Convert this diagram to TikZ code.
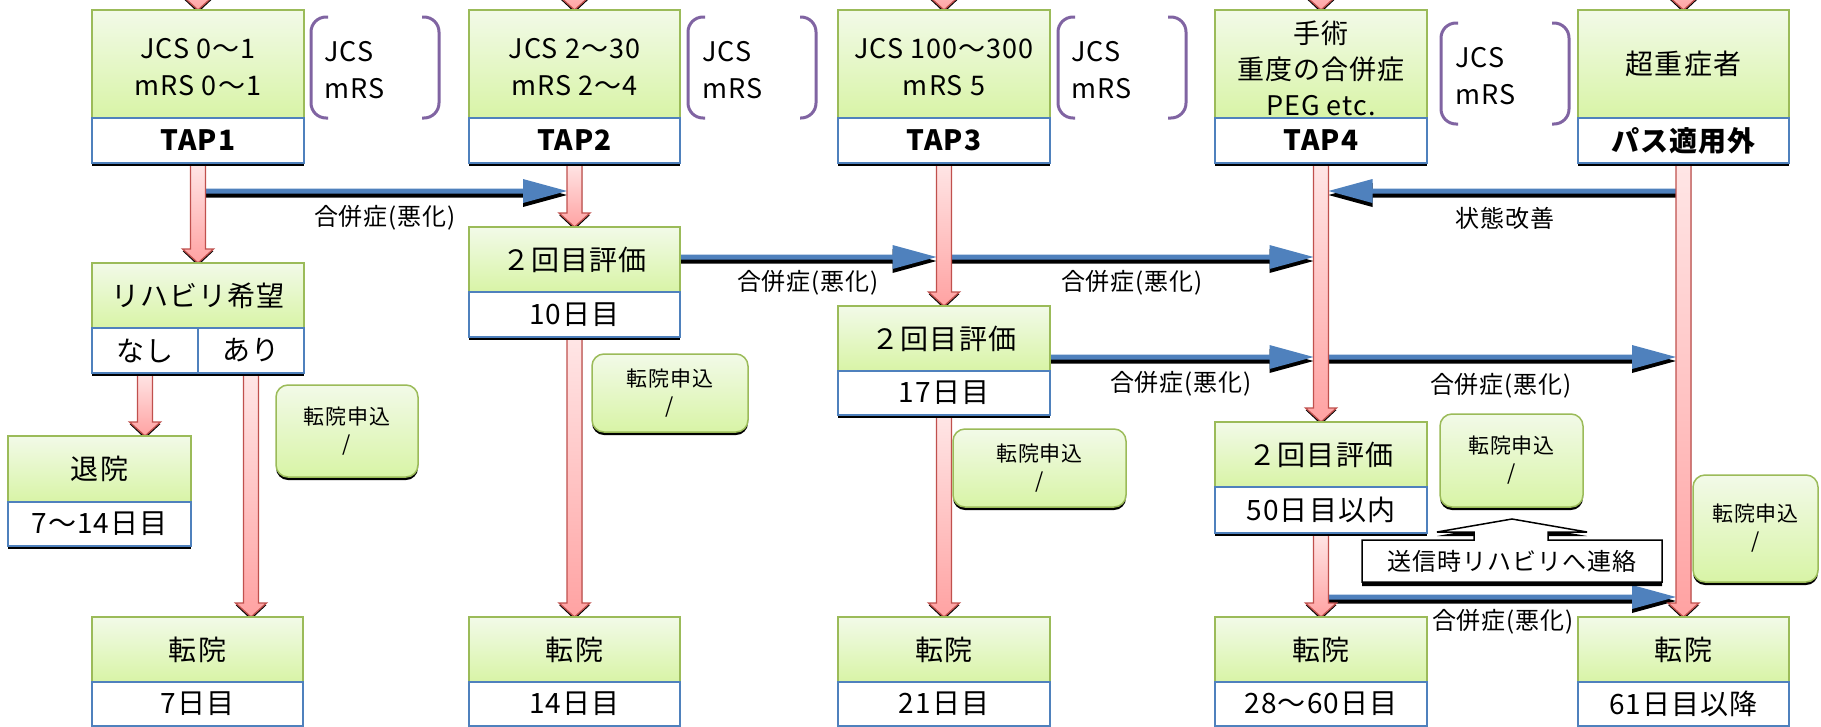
\documentclass[tikz,border=0pt]{standalone}
\usepackage{fontspec}
\setmainfont{Noto Sans CJK JP}[LetterSpace=4]
\usetikzlibrary{shadows,calc}
\pgfdeclarelayer{back}
\pgfdeclarelayer{bg}
\pgfsetlayers{back,bg,main}
\definecolor{gborder}{HTML}{9BBB59}
\definecolor{gtop}{HTML}{F2FAE8}
\definecolor{gbot}{HTML}{D8F4A6}
\definecolor{bborder}{HTML}{4F81BD}
\definecolor{bblue}{HTML}{4F81BD}
\definecolor{rborder}{HTML}{C0504D}
\definecolor{rtop}{HTML}{FFE6E6}
\definecolor{rbot}{HTML}{FFA2A2}
\definecolor{bpurple}{HTML}{8064A2}
\newcommand\redarr[2]{%
  \path[fill=black] let \p1=#1, \p2=#2 in
    (\x1-7.5pt,\y1-2pt) -- (\x1+7.5pt,\y1-2pt) -- (\x1+7.5pt,\y2+12pt) -- (\x1+15.5pt,\y2+12pt)
    -- (\x1,\y2-2.5pt) -- (\x1-15.5pt,\y2+12pt) -- (\x1-7.5pt,\y2+12pt) -- cycle;
  \path[draw=rborder, line width=1.3pt, top color=rtop, bottom color=rbot] let \p1=#1, \p2=#2 in
    (\x1-7.5pt,\y1) -- (\x1+7.5pt,\y1) -- (\x1+7.5pt,\y2+14pt) -- (\x1+15.5pt,\y2+14pt)
    -- (\x1,\y2) -- (\x1-15.5pt,\y2+14pt) -- (\x1-7.5pt,\y2+14pt) -- cycle;
}
\newcommand\bluer[2]{%
  \path[fill=black] let \p1=#1, \p2=#2 in
    (\x1,\y1-1.5pt) -- (\x2-51.5pt,\y1-1.5pt) -- (\x2-51.5pt,\y1+8pt) -- (\x2-7.5pt,\y1-4pt)
    -- (\x2-51.5pt,\y1-16pt) -- (\x2-51.5pt,\y1-6.5pt) -- (\x1,\y1-6.5pt) -- cycle;
  \path[fill=bblue] let \p1=#1, \p2=#2 in
    (\x1,\y1+2.5pt) -- (\x2-51.5pt,\y1+2.5pt) -- (\x2-51.5pt,\y1+12pt) -- (\x2-7.5pt,\y1)
    -- (\x2-51.5pt,\y1-12pt) -- (\x2-51.5pt,\y1-2.5pt) -- (\x1,\y1-2.5pt) -- cycle;
}
\newcommand\bluel[2]{%
  \path[fill=black] let \p1=#1, \p2=#2 in
    (\x1,\y1-1.5pt) -- (\x2+51.5pt,\y1-1.5pt) -- (\x2+51.5pt,\y1+8pt) -- (\x2+7.5pt,\y1-4pt)
    -- (\x2+51.5pt,\y1-16pt) -- (\x2+51.5pt,\y1-6.5pt) -- (\x1,\y1-6.5pt) -- cycle;
  \path[fill=bblue] let \p1=#1, \p2=#2 in
    (\x1,\y1+2.5pt) -- (\x2+51.5pt,\y1+2.5pt) -- (\x2+51.5pt,\y1+12pt) -- (\x2+7.5pt,\y1)
    -- (\x2+51.5pt,\y1-12pt) -- (\x2+51.5pt,\y1-2.5pt) -- (\x1,\y1-2.5pt) -- cycle;
}
\tikzset{
  blackshadow/.style={drop shadow={shadow xshift=0pt, shadow yshift=-3pt, opacity=1, fill=black}},
  gpart/.style={draw=gborder, line width=1.5pt, top color=gtop, bottom color=gbot,
    inner sep=0pt, outer sep=0pt, anchor=north west, align=center, text=black},
  wpart/.style={draw=bborder, line width=1.5pt, fill=white, inner sep=0pt, outer sep=0pt,
    anchor=north west, align=center, blackshadow},
  rbox/.style={draw=gborder, line width=1.5pt, top color=gtop, bottom color=gbot,
    rounded corners=12pt, inner sep=0pt, outer sep=0pt, anchor=north west, align=center,
    blackshadow, font=\fontsize{21}{27}\selectfont},
  ftop/.style={font=\fontsize{27}{37}\selectfont},
  fbig/.style={font=\fontsize{28}{34}\selectfont},
  fbold/.style={font=\bfseries\fontsize{28}{34}\selectfont},
  lbl/.style={font=\fontsize{24}{28}\selectfont, inner sep=0pt},
  brk/.style={draw=bpurple, line width=3pt, rounded corners=15pt},
  brtxt/.style={font=\fontsize{27}{37}\selectfont, anchor=west, inner sep=0pt, align=left},
  intxt/.style={inner sep=0pt, align=center},
}
\begin{document}
\begin{tikzpicture}[x=1pt,y=-1pt]
\useasboundingbox (0,0) rectangle (1821,726);
\clip (0,0) rectangle (1821,726);
\begin{pgfonlayer}{back}
\fill[white] (0,0) rectangle (1821,726);
\end{pgfonlayer}

% top boxes
\node[gpart, minimum width=212, minimum height=108] (tap1) at (92,10) {};
\node[intxt, ftop] (tap1t) at (198,67) {JCS 0〜1\\mRS 0〜1};
\node[wpart, fbold, minimum width=212, minimum height=45] (tap1w) at (92,118) {TAP1};
\node[gpart, minimum width=211, minimum height=108] (tap2) at (469,10) {};
\node[intxt, ftop] (tap2t) at (574.5,67) {JCS 2〜30\\mRS 2〜4};
\node[wpart, fbold, minimum width=211, minimum height=45] (tap2w) at (469,118) {TAP2};
\node[gpart, minimum width=212, minimum height=108] (tap3) at (838,10) {};
\node[intxt, ftop] (tap3t) at (944,67) {JCS 100〜300\\mRS 5};
\node[wpart, fbold, minimum width=212, minimum height=45] (tap3w) at (838,118) {TAP3};
\node[gpart, minimum width=212, minimum height=108] (tap4) at (1215,10) {};
\node[intxt, font=\fontsize{27}{36}\selectfont] (tap4t) at (1321,68) {手術\\重度の合併症\\PEG etc.};
\node[wpart, fbold, minimum width=212, minimum height=45] (tap4w) at (1215,118) {TAP4};
\node[gpart, fbig, minimum width=211, minimum height=108] (sup) at (1578,10) {超重症者};
\node[wpart, fbold, minimum width=211, minimum height=45] (supw) at (1578,118) {パス適用外};

% brackets
\draw[brk] (328,17) -- (311,17) -- (311,118) -- (328,118);
\draw[brk] (422,17) -- (439,17) -- (439,118) -- (422,118);
\node[brtxt] (br1) at (324,70) {JCS\\mRS};
\draw[brk] (705,17) -- (688,17) -- (688,118) -- (705,118);
\draw[brk] (800,17) -- (816,17) -- (816,118) -- (800,118);
\node[brtxt] (br2) at (702,70) {JCS\\mRS};
\draw[brk] (1075,17) -- (1058,17) -- (1058,118) -- (1075,118);
\draw[brk] (1168,17) -- (1186,17) -- (1186,118) -- (1168,118);
\node[brtxt] (br3) at (1071,70) {JCS\\mRS};
\draw[brk] (1458,23) -- (1441,23) -- (1441,124) -- (1458,124);
\draw[brk] (1552,23) -- (1569,23) -- (1569,124) -- (1552,124);
\node[brtxt] (br4) at (1455,76) {JCS\\mRS};

% middle boxes
\node[gpart, fbig, minimum width=212, minimum height=65] (rh) at (92,263) {リハビリ希望};
\node[wpart, fbig, minimum width=106, minimum height=45] (nashi) at (92,328) {なし};
\node[wpart, fbig, minimum width=106, minimum height=45] (ari) at (198,328) {あり};
\node[gpart, fbig, minimum width=183, minimum height=66] (taiin) at (8,436) {退院};
\node[wpart, fbig, minimum width=183, minimum height=44] (taiinw) at (8,502) {7〜14日目};
\node[gpart, fbig, minimum width=211, minimum height=65] (ev2) at (469,227) {２回目評価};
\node[wpart, fbig, minimum width=211, minimum height=45] (ev2w) at (469,292) {10日目};
\node[gpart, fbig, minimum width=212, minimum height=65] (ev3) at (838,306) {２回目評価};
\node[wpart, fbig, minimum width=212, minimum height=44] (ev3w) at (838,371) {17日目};
\node[gpart, fbig, minimum width=212, minimum height=65] (ev4) at (1215,422) {２回目評価};
\node[wpart, fbig, minimum width=212, minimum height=46] (ev4w) at (1215,487) {50日目以内};

% bottom boxes
\node[gpart, fbig, minimum width=211, minimum height=65] (b1) at (92,617) {転院};
\node[wpart, fbig, minimum width=211, minimum height=44] (b1w) at (92,682) {7日目};
\node[gpart, fbig, minimum width=211, minimum height=65] (b2) at (469,617) {転院};
\node[wpart, fbig, minimum width=211, minimum height=44] (b2w) at (469,682) {14日目};
\node[gpart, fbig, minimum width=212, minimum height=65] (b3) at (838,617) {転院};
\node[wpart, fbig, minimum width=212, minimum height=44] (b3w) at (838,682) {21日目};
\node[gpart, fbig, minimum width=212, minimum height=65] (b4) at (1215,617) {転院};
\node[wpart, fbig, minimum width=212, minimum height=44] (b4w) at (1215,682) {28〜60日目};
\node[gpart, fbig, minimum width=211, minimum height=65] (b5) at (1578,617) {転院};
\node[wpart, fbig, minimum width=211, minimum height=44] (b5w) at (1578,682) {61日目以降};

% transfer application boxes
\node[rbox, minimum width=142, minimum height=92] (ta) at (276,385) {転院申込\\/};
\node[rbox, minimum width=156, minimum height=78] (tb) at (592,354) {転院申込\\/};
\node[rbox, minimum width=173, minimum height=78] (tc) at (953,429) {転院申込\\/};
\node[rbox, minimum width=143, minimum height=93] (td) at (1440,414) {転院申込\\/};
\node[rbox, minimum width=125, minimum height=107] (te) at (1693,475) {転院申込\\/};

% callout
\fill[black] (1362,544) -- (1474,544) -- (1474,536) -- (1437,536) -- (1512,523) -- (1587,536)
  -- (1548,536) -- (1548,544) -- (1662,544) -- (1662,586) -- (1362,586) -- cycle;
\draw[fill=white, line width=1.5pt] (1362,540) -- (1474,540) -- (1474,532) -- (1437,532) -- (1512,519)
  -- (1587,532) -- (1548,532) -- (1548,540) -- (1662,540) -- (1662,582) -- (1362,582) -- cycle;
\node[font=\fontsize{24}{28}\selectfont, inner sep=0pt] (renraku) at (1512,561) {送信時リハビリへ連絡};

% labels
\node[lbl] (l1) at (385,218) {合併症(悪化)};
\node[lbl] (l2) at (808,283) {合併症(悪化)};
\node[lbl] (l3) at (1132,283) {合併症(悪化)};
\node[lbl] (l4) at (1181,384) {合併症(悪化)};
\node[lbl] (l5) at (1501,386) {合併症(悪化)};
\node[lbl] (l6) at (1503,622) {合併症(悪化)};
\node[lbl] (kaizen) at (1505,218) {状態改善};

% helper rows
\coordinate (topc) at (0,-40);
\coordinate (r1) at (0,191);
\coordinate (r2) at (0,257);
\coordinate (r3) at (0,357);
\coordinate (r4) at (0,597);

\begin{pgfonlayer}{bg}
\clip (0,0) rectangle (1821,726);
% blue arrows
\bluer{(tap1w.south |- r1)}{(tap2w.south)}
\bluer{(ev2.east |- r2)}{(tap3w.south)}
\bluer{(tap3w.south |- r2)}{(tap4w.south)}
\bluer{(ev3.east |- r3)}{(tap4w.south)}
\bluer{(tap4w.south |- r3)}{(supw.south)}
\bluel{(supw.south |- r1)}{(tap4w.south)}
\bluer{(ev4w.south |- r4)}{(supw.south)}
% red arrows
\redarr{(tap1.north |- topc)}{(tap1.north)}
\redarr{(tap2.north |- topc)}{(tap2.north)}
\redarr{(tap3.north |- topc)}{(tap3.north)}
\redarr{(tap4.north |- topc)}{(tap4.north)}
\redarr{(sup.north |- topc)}{(sup.north)}
\redarr{(tap1w.south)}{(rh.north)}
\redarr{(nashi.south)}{(nashi.south |- taiin.north)}
\redarr{(ari.south)}{(ari.south |- b1.north)}
\redarr{(tap2w.south)}{(ev2.north)}
\redarr{(ev2w.south)}{(b2.north)}
\redarr{(tap3w.south)}{(ev3.north)}
\redarr{(ev3w.south)}{(b3.north)}
\redarr{(tap4w.south)}{(ev4.north)}
\redarr{(ev4w.south)}{(b4.north)}
\redarr{(supw.south)}{(b5.north)}
\end{pgfonlayer}
\end{tikzpicture}
\end{document}
